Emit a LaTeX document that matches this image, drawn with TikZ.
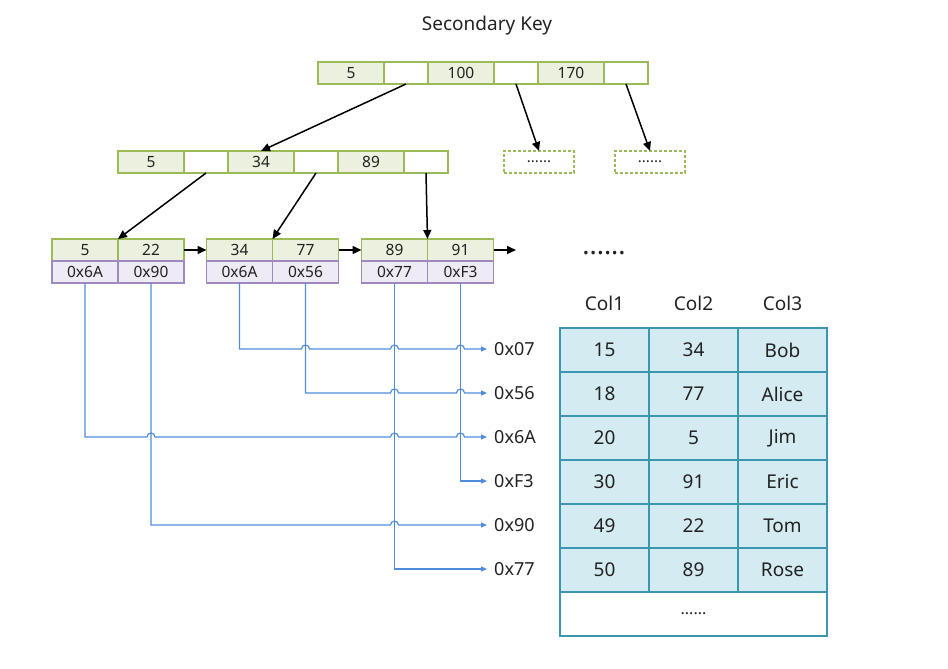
\documentclass[tikz,border=0pt]{standalone}
\usepackage{fontspec}
\setmainfont{Noto Sans}
\usepackage{tikz}
\usetikzlibrary{positioning,arrows.meta}

\definecolor{keygreen}{HTML}{9BBB59}
\definecolor{keyfill}{HTML}{EBF1DE}
\definecolor{addrpurple}{HTML}{9E89C0}
\definecolor{addrfill}{HTML}{EEEBF4}
\definecolor{ptrblue}{HTML}{4F8CDC}
\definecolor{rowteal}{HTML}{3A97AF}
\definecolor{rowfill}{HTML}{D4EBF1}
\definecolor{inkgray}{HTML}{222222}

\tikzset{
  cell/.style={draw=keygreen,line width=1.6pt,minimum height=22pt,inner sep=0pt,outer sep=0pt,
    text=inkgray,font=\fontsize{15.5}{17}\selectfont},
  keycell/.style={cell,fill=keyfill,minimum width=66pt},
  ptrcell/.style={cell,fill=white,minimum width=44pt},
  addrcell/.style={cell,draw=addrpurple,fill=addrfill,minimum width=66pt},
  morebox/.style={cell,dash pattern=on 3pt off 2pt,minimum width=70pt,font=\fontsize{15}{16}\selectfont},
  link/.style={line width=1.5pt,-{Triangle[length=9pt,width=8pt]}},
  ptr/.style={draw=ptrblue,line width=1.2pt,-{Triangle[length=6pt,width=5pt]}},
  addr/.style={anchor=west,inner sep=0pt,inner xsep=7pt,text=inkgray,font=\fontsize{18}{20}\selectfont},
  row/.style={draw=rowteal,fill=rowfill,line width=1.8pt,minimum width=89pt,minimum height=44pt,
    inner sep=0pt,outer sep=0pt,text=inkgray,font=\fontsize{19}{21}\selectfont},
  colhead/.style={text=inkgray,font=\fontsize{19}{21}\selectfont}
}

\begin{document}
\begin{tikzpicture}[x=1pt,y=-1pt]
  \useasboundingbox (0,0) rectangle (948,669);

  \node[colhead] (title) at (487,26) {Secondary Key};

  % root page
  \node[keycell] (r1) at (351,73) {5};
  \node[ptrcell,right=0pt of r1] (r2) {};
  \node[keycell,right=0pt of r2] (r3) {100};
  \node[ptrcell,right=0pt of r3] (r4) {};
  \node[keycell,right=0pt of r4] (r5) {170};
  \node[ptrcell,right=0pt of r5] (r6) {};

  % second level
  \node[keycell] (m1) at (151,162) {5};
  \node[ptrcell,right=0pt of m1] (m2) {};
  \node[keycell,right=0pt of m2] (m3) {34};
  \node[ptrcell,right=0pt of m3] (m4) {};
  \node[keycell,right=0pt of m4] (m5) {89};
  \node[ptrcell,right=0pt of m5] (m6) {};

  \node[morebox] (d1) at (539,162) {......};
  \node[morebox] (d2) at (650,162) {......};

  % leaves
  \node[keycell] (k11) at (85,250) {5};
  \node[keycell,right=0pt of k11] (k12) {22};
  \node[addrcell,below=0pt of k11] (k11b) {0x6A};
  \node[addrcell,below=0pt of k12] (k12b) {0x90};

  \node[keycell] (k21) at (239.5,250) {34};
  \node[keycell,right=0pt of k21] (k22) {77};
  \node[addrcell,below=0pt of k21] (k21b) {0x6A};
  \node[addrcell,below=0pt of k22] (k22b) {0x56};

  \node[keycell] (k31) at (394.5,250) {89};
  \node[keycell,right=0pt of k31] (k32) {91};
  \node[addrcell,below=0pt of k31] (k31b) {0x77};
  \node[addrcell,below=0pt of k32] (k32b) {0xF3};

  \node[font=\fontsize{27}{28}\bfseries\selectfont,text=inkgray] (etc) at (604,253) {......};

  \draw[link] (r2.south) -- (m3.north);
  \draw[link] (r4.south) -- (d1.north);
  \draw[link] (r6.south) -- (d2.north);
  \draw[link] (m2.south) -- (k11.north east);
  \draw[link] (m4.south) -- (k21.north east);
  \draw[link] (m6.south) -- (k31.north east);
  \draw[link] (k12.east) -- (k21.west);
  \draw[link] (k22.east) -- (k31.west);
  \coordinate (next) at (516,250);
  \draw[link] (k32.east) -- (next);

  % row addresses
  \node[addr] (a07) at (487,349) {0x07};
  \node[addr] (a56) at (487,393) {0x56};
  \node[addr] (a6A) at (487,437) {0x6A};
  \node[addr] (aF3) at (487,481) {0xF3};
  \node[addr] (a90) at (487,525) {0x90};
  \node[addr] (a77) at (487,569) {0x77};

  \draw[ptr] (k21b.south) |- ([xshift=-4pt]k22b.south |- a07.west)
    arc[start angle=180,end angle=0,radius=4pt] -- ([xshift=-4pt]k31b.south |- a07.west)
    arc[start angle=180,end angle=0,radius=4pt] -- ([xshift=-4pt]k32b.south |- a07.west)
    arc[start angle=180,end angle=0,radius=4pt] -- (a07.west);
  \draw[ptr] (k22b.south) |- ([xshift=-4pt]k31b.south |- a56.west)
    arc[start angle=180,end angle=0,radius=4pt] -- ([xshift=-4pt]k32b.south |- a56.west)
    arc[start angle=180,end angle=0,radius=4pt] -- (a56.west);
  \draw[ptr] (k11b.south) |- ([xshift=-4pt]k12b.south |- a6A.west)
    arc[start angle=180,end angle=0,radius=4pt] -- ([xshift=-4pt]k31b.south |- a6A.west)
    arc[start angle=180,end angle=0,radius=4pt] -- ([xshift=-4pt]k32b.south |- a6A.west)
    arc[start angle=180,end angle=0,radius=4pt] -- (a6A.west);
  \draw[ptr] (k32b.south) |- (aF3.west);
  \draw[ptr] (k12b.south) |- ([xshift=-4pt]k31b.south |- a90.west)
    arc[start angle=180,end angle=0,radius=4pt] -- (a90.west);
  \draw[ptr] (k31b.south) |- (a77.west);

  % table
  \node[colhead] (h1) at (604.5,303) {Col1};
  \node[colhead] (h2) at (693.5,303) {Col2};
  \node[colhead] (h3) at (782.5,303) {Col3};

  \node[row] (c11) at (604.5,350) {15};
  \node[row,right=0pt of c11] (c12) {34};
  \node[row,right=0pt of c12] (c13) {Bob};
  \node[row,below=0pt of c11] (c21) {18};
  \node[row,right=0pt of c21] (c22) {77};
  \node[row,right=0pt of c22] (c23) {Alice};
  \node[row,below=0pt of c21] (c31) {20};
  \node[row,right=0pt of c31] (c32) {5};
  \node[row,right=0pt of c32] (c33) {Jim};
  \node[row,below=0pt of c31] (c41) {30};
  \node[row,right=0pt of c41] (c42) {91};
  \node[row,right=0pt of c42] (c43) {Eric};
  \node[row,below=0pt of c41] (c51) {49};
  \node[row,right=0pt of c51] (c52) {22};
  \node[row,right=0pt of c52] (c53) {Tom};
  \node[row,below=0pt of c51] (c61) {50};
  \node[row,right=0pt of c61] (c62) {89};
  \node[row,right=0pt of c62] (c63) {Rose};
  \node[row,fill=white,minimum width=267pt,font=\fontsize{16}{17}\selectfont,below=0pt of c62] (c7) {......};
\end{tikzpicture}
\end{document}
